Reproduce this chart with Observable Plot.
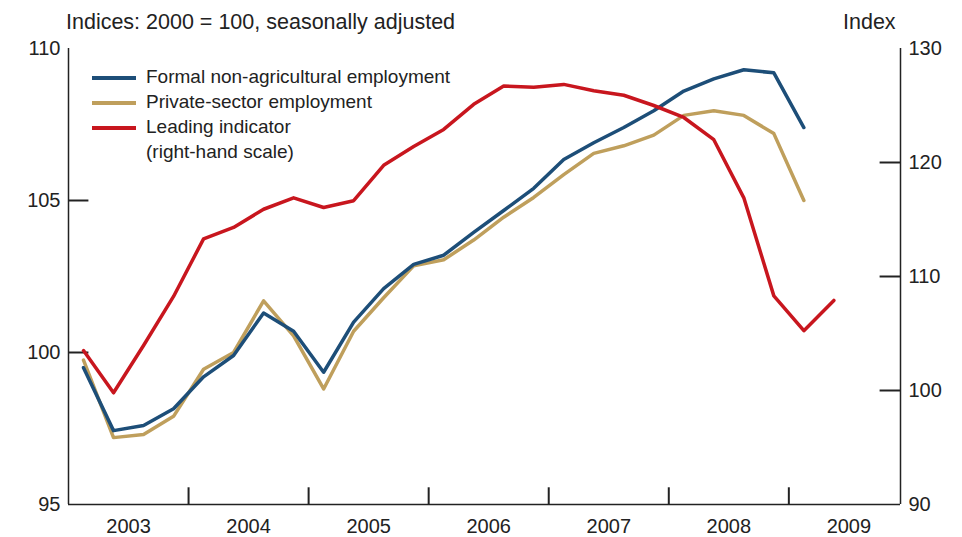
<!DOCTYPE html>
<html lang="en">
<head>
<meta charset="UTF-8">
<script src="https://cdn.jsdelivr.net/npm/d3@7"></script>
<script src="https://cdn.jsdelivr.net/npm/@observablehq/plot@0.6"></script>
<style>
  body { margin: 0; font-family: "Liberation Sans", Arial, sans-serif; color: #222; }
  #wrap { position: relative; width: 962px; height: 537px; }
  .lab { position: absolute; font-size: 21.5px; }
  .leg { position: absolute; font-size: 19px; line-height: 25px; }
  .sw { display: inline-block; width: 44px; height: 4px; vertical-align: middle; margin-right: 10px; }
</style>
</head>
<body>
<div id="wrap">
  <div id="chart"></div>
  <div class="lab" style="left:66px;top:10px">Indices: 2000 = 100, seasonally adjusted</div>
  <div class="lab" style="left:843px;top:10px">Index</div>
  <div class="leg" style="left:92px;top:64px">
    <div><span class="sw" style="background:#1d4e78"></span>Formal non-agricultural employment</div>
    <div><span class="sw" style="background:#bf9f5c"></span>Private-sector employment</div>
    <div><span class="sw" style="background:#c8161e"></span>Leading indicator</div>
    <div style="padding-left:54px">(right-hand scale)</div>
  </div>
</div>
<script>
const formal = [99.5, 97.43, 97.6, 98.15, 99.2, 99.9, 101.3, 100.7, 99.35, 101.0, 102.1, 102.9, 103.2, 103.95, 104.67, 105.4, 106.35, 106.9, 107.4, 107.95, 108.6, 109.0, 109.3, 109.2, 107.4];
const privateSector = [99.75, 97.2, 97.3, 97.9, 99.45, 100.0, 101.7, 100.55, 98.8, 100.7, 101.8, 102.85, 103.05, 103.7, 104.45, 105.1, 105.85, 106.55, 106.8, 107.15, 107.8, 107.95, 107.8, 107.2, 105.0];
const leading = [103.5, 99.8, 103.95, 108.25, 113.3, 114.3, 115.9, 116.9, 116.05, 116.65, 119.75, 121.4, 122.9, 125.1, 126.7, 126.6, 126.85, 126.3, 125.9, 125.0, 123.95, 122.0, 116.9, 108.3, 105.25, 107.9];
const years = [2003, 2004, 2005, 2006, 2007, 2008, 2009];
const leftTicks = [95, 100, 105, 110];
const rightTicks = [90, 100, 110, 120, 130];

const qx = i => 2003 + (i + 0.5) / 4;
const toLeft = r => 95 + (r - 90) * 15 / 40;
const X0 = 2003, X1 = 2009.93;

const plot = Plot.plot({
  width: 962, height: 537,
  marginTop: 48, marginLeft: 68, marginRight: 62, marginBottom: 33,
  x: {domain: [X0, X1], axis: null},
  y: {domain: [95, 110], axis: null},
  style: {fontFamily: "Liberation Sans, Arial, sans-serif", fontSize: "20px", color: "#222"},
  marks: [
    Plot.ruleX([X0, X1], {stroke: "#222", strokeWidth: 1.5}),
    Plot.ruleY([95], {stroke: "#222", strokeWidth: 1.5}),
    Plot.ruleX(years.slice(1), {y1: 95, y2: 95.55, stroke: "#222", strokeWidth: 2}),
    Plot.ruleY([100, 105], {x1: X0, x2: X0 + 0.17, stroke: "#222", strokeWidth: 2}),
    Plot.ruleY([100, 110, 120], {y: toLeft, x1: X1 - 0.17, x2: X1, stroke: "#222", strokeWidth: 2}),
    Plot.text(years, {x: d => d + 0.5, y: 95, dy: 22, text: d => String(d)}),
    Plot.text(leftTicks, {x: X0, y: d => d, dx: -8, textAnchor: "end", text: d => String(d)}),
    Plot.text(rightTicks, {x: X1, y: toLeft, dx: 8, textAnchor: "start", text: d => String(d)}),
    Plot.line(privateSector, {x: (d, i) => qx(i), y: d => d, stroke: "#bf9f5c", strokeWidth: 3.5}),
    Plot.line(formal, {x: (d, i) => qx(i), y: d => d, stroke: "#1d4e78", strokeWidth: 3.5}),
    Plot.line(leading, {x: (d, i) => qx(i), y: toLeft, stroke: "#c8161e", strokeWidth: 3.5})
  ]
});
document.getElementById("chart").replaceChildren(plot);
</script>
</body>
</html>
